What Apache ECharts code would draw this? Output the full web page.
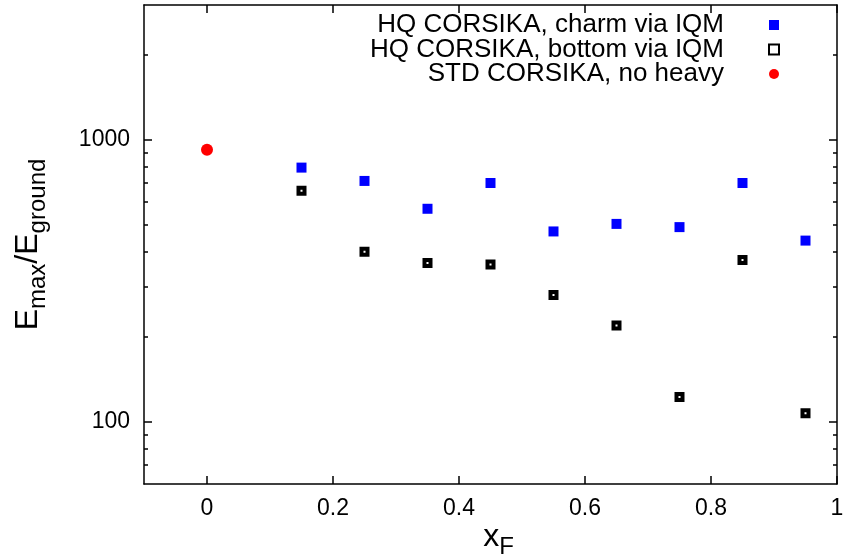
<!DOCTYPE html>
<html>
<head>
<meta charset="utf-8">
<script src="https://cdn.jsdelivr.net/npm/echarts@6/dist/echarts.min.js"></script>
<style>
html,body{margin:0;padding:0;background:#fff;}
#c{width:844px;height:560px;}
</style>
</head>
<body>
<div id="c"></div>
<script>
const xF = [0.15, 0.25, 0.35, 0.45, 0.55, 0.65, 0.75, 0.85, 0.95];
const charmVals = [795, 713, 568, 701, 472, 502, 489, 701, 438];
const bottomVals = [658, 400, 365, 360, 281, 219, 122, 374, 107];
const stdX = [0];
const stdVals = [919];
const xTicks = [0, 0.2, 0.4, 0.6, 0.8, 1];
const yMajor = [100, 1000];
const yMinor = [70, 80, 90, 200, 300, 400, 500, 600, 700, 800, 900, 2000];
const names = ['HQ CORSIKA, charm via IQM', 'HQ CORSIKA, bottom via IQM', 'STD CORSIKA, no heavy'];

const FONT = 'Liberation Sans';
const chart = echarts.init(document.getElementById('c'));
const pair = (xs, ys) => xs.map((x, i) => [x, ys[i]]);
const lineStyle = {color: '#000', width: 1.5};
const xBase = {type: 'value', min: -0.1, max: 1, splitLine: {show: false}, axisLine: {show: true, onZero: false, lineStyle}};
const yBase = {type: 'log', min: 60, max: 3000, splitLine: {show: false}, axisLine: {show: true, onZero: false, lineStyle}};
const richTitle = {
  m: {fontFamily: FONT, fontSize: 32, color: '#000', verticalAlign: 'top', lineHeight: 32},
  s: {fontFamily: FONT, fontSize: 24, color: '#000', verticalAlign: 'top', lineHeight: 24, padding: [14, 0, 0, 0]}
};

chart.setOption({
  animation: false,
  backgroundColor: '#fff',
  grid: {left: 144, right: 7, top: 5, bottom: 76, outerBoundsMode: 'none', containLabel: false},
  legend: {
    orient: 'vertical', align: 'right', right: 59, top: 7,
    itemWidth: 10, itemHeight: 10, itemGap: -1.5,
    textStyle: {fontFamily: FONT, fontSize: 26, color: '#000', padding: [0, 40, 0, 0], lineHeight: 24},
    data: names
  },
  xAxis: [
    Object.assign({}, xBase, {
      position: 'bottom',
      name: '{m|x}{s|F}', nameLocation: 'middle', nameGap: 37, nameMoveOverlap: false,
      nameTextStyle: {fontFamily: FONT, padding: [0, 0, 0, 16], rich: richTitle},
      axisTick: {show: true, inside: true, length: 8, lineStyle, customValues: xTicks},
      axisLabel: {show: true, customValues: xTicks, fontFamily: FONT, fontSize: 23, color: '#000', margin: 13,
        formatter: v => String(Math.round(v * 10) / 10)}
    }),
    Object.assign({}, xBase, {
      position: 'top',
      axisTick: {show: true, inside: true, length: 8, lineStyle, customValues: xTicks},
      axisLabel: {show: false}
    })
  ],
  yAxis: [
    Object.assign({}, yBase, {
      position: 'left',
      name: '{m|E}{s|max}{m|/E}{s|ground}', nameLocation: 'middle', nameRotate: 90, nameGap: 100, nameMoveOverlap: false,
      nameTextStyle: {fontFamily: FONT, rich: richTitle},
      axisTick: {show: true, inside: true, length: 8, lineStyle, customValues: yMajor},
      axisLabel: {show: true, customValues: yMajor, fontFamily: FONT, fontSize: 23, color: '#000', margin: 14,
        formatter: v => String(Math.round(v))}
    }),
    Object.assign({}, yBase, {
      position: 'right',
      axisTick: {show: true, inside: true, length: 8, lineStyle, customValues: yMajor},
      axisLabel: {show: false}
    }),
    Object.assign({}, yBase, {
      position: 'left', offset: 0,
      axisLine: {show: false, onZero: false},
      axisTick: {show: true, inside: true, length: 4, lineStyle, customValues: yMinor},
      axisLabel: {show: false}
    }),
    Object.assign({}, yBase, {
      position: 'right', offset: 0,
      axisLine: {show: false, onZero: false},
      axisTick: {show: true, inside: true, length: 4, lineStyle, customValues: yMinor},
      axisLabel: {show: false}
    })
  ],
  series: [
    {
      name: names[0], type: 'scatter', xAxisIndex: 0, yAxisIndex: 0,
      symbol: 'rect', symbolSize: 10,
      itemStyle: {color: '#0000ff', opacity: 1},
      data: pair(xF, charmVals)
    },
    {
      name: names[1], type: 'scatter', xAxisIndex: 0, yAxisIndex: 0,
      symbol: 'rect', symbolSize: 6,
      itemStyle: {color: '#fff', borderColor: '#000', borderWidth: 4, opacity: 1},
      data: pair(xF, bottomVals)
    },
    {
      name: names[2], type: 'scatter', xAxisIndex: 0, yAxisIndex: 0,
      symbol: 'circle', symbolSize: 12,
      itemStyle: {color: '#ff0000', opacity: 1},
      data: pair(stdX, stdVals)
    }
  ]
});
</script>
</body>
</html>
